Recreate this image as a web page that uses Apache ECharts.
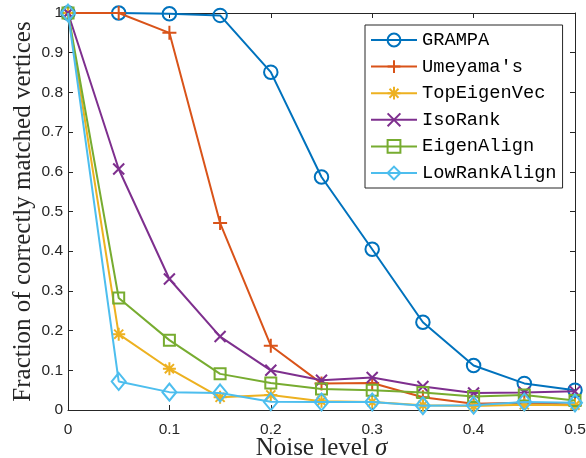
<!DOCTYPE html>
<html>
<head>
<meta charset="utf-8">
<script src="https://cdn.jsdelivr.net/npm/echarts@6/dist/echarts.min.js"></script>
<style>
  html, body { margin: 0; padding: 0; background: #fff; }
  #chart { width: 586px; height: 458px; }
</style>
</head>
<body>
<div id="chart"></div>
<script>
// Noise levels (sigma) on the x axis
const noiseLevels = [0, 0.05, 0.1, 0.15, 0.2, 0.25, 0.3, 0.35, 0.4, 0.45, 0.5];

// Fraction of correctly matched vertices for each method
const grampa       = [1, 1, 0.998, 0.994, 0.851, 0.587, 0.405, 0.221, 0.112, 0.067, 0.05];
const umeyama      = [1, 1, 0.950, 0.471, 0.162, 0.067, 0.068, 0.032, 0.016, 0.018, 0.013];
const topEigenVec  = [1, 0.191, 0.104, 0.032, 0.038, 0.022, 0.020, 0.012, 0.010, 0.013, 0.012];
const isoRank      = [1, 0.607, 0.330, 0.185, 0.100, 0.075, 0.082, 0.059, 0.043, 0.044, 0.047];
const eigenAlign   = [1, 0.282, 0.176, 0.091, 0.068, 0.053, 0.050, 0.044, 0.034, 0.038, 0.024];
const lowRankAlign = [1, 0.072, 0.045, 0.043, 0.021, 0.020, 0.020, 0.011, 0.012, 0.020, 0.018];

const seriesNames = ['GRAMPA', "Umeyama's", 'TopEigenVec', 'IsoRank', 'EigenAlign', 'LowRankAlign'];
const seriesValues = [grampa, umeyama, topEigenVec, isoRank, eigenAlign, lowRankAlign];

const xTicks = { min: 0, max: 0.5, step: 0.1 };
const yTicks = { min: 0, max: 1, step: 0.1 };

// Line colours and marker shapes
const colors = ['#0072BD', '#D95319', '#EDB120', '#7E2F8E', '#77AC30', '#4DBEEE'];
const markers = [
  { symbol: 'circle', size: 13.5 },
  { symbol: 'path://M0,-10L0,10M-10,0L10,0', size: 14 },
  { symbol: 'path://M0,-10L0,10M-10,0L10,0M-7,-7L7,7M-7,7L7,-7', size: 13 },
  { symbol: 'path://M-7,-7L7,7M-7,7L7,-7', size: 11 },
  { symbol: 'rect', size: 11 },
  { symbol: 'diamond', size: [14, 17] }
];

const axisColor = '#262626';

const series = seriesNames.map((name, i) => ({
  name: name,
  type: 'line',
  data: noiseLevels.map((x, j) => [x, seriesValues[i][j]]),
  symbol: markers[i].symbol,
  symbolSize: markers[i].size,
  showAllSymbol: true,
  z: 2 + i,
  lineStyle: { color: colors[i], width: 2 },
  itemStyle: { color: 'none', borderColor: colors[i], borderWidth: 2 },
  emphasis: { disabled: true },
  animation: false
}));

const chart = echarts.init(document.getElementById('chart'), null, { renderer: 'canvas' });

const tickLabelStyle = {
  color: axisColor,
  fontFamily: 'Liberation Sans, Arial, sans-serif',
  fontSize: 15.5
};

// Ticks point into the plot on every side of the box
function innerTick() {
  return { show: true, inside: true, length: 5, lineStyle: { color: axisColor, width: 1 } };
}
// Box edges stay on their own side instead of jumping to the zero line
function boxLine() {
  return { show: true, onZero: false, lineStyle: { color: axisColor, width: 1 } };
}

chart.setOption({
  animation: false,
  backgroundColor: '#fff',
  grid: { left: 68, right: 11, top: 13, bottom: 48, containLabel: false, outerBoundsMode: 'none' },
  legend: {
    data: seriesNames,
    orient: 'vertical',
    left: 365,
    top: 25,
    padding: [5, 6, 5, 5],
    itemWidth: 46,
    itemHeight: 16,
    itemGap: 6.6,
    backgroundColor: '#fff',
    borderColor: axisColor,
    borderWidth: 1,
    borderRadius: 0,
    textStyle: {
      color: '#000',
      fontFamily: 'Liberation Mono, DejaVu Sans Mono, monospace',
      fontSize: 18.7,
      lineHeight: 20
    }
  },
  xAxis: [
    {
      type: 'value', position: 'bottom',
      min: xTicks.min, max: xTicks.max, interval: xTicks.step,
      name: '{n|Noise level }{s|σ}',
      nameLocation: 'middle',
      nameGap: 26,
      nameMoveOverlap: false,
      nameTextStyle: {
        rich: {
          n: { fontFamily: 'Liberation Serif, serif', fontSize: 25, color: axisColor },
          s: { fontFamily: 'Liberation Serif, serif', fontSize: 25, fontStyle: 'italic', color: axisColor }
        }
      },
      axisLine: boxLine(),
      axisTick: innerTick(),
      axisLabel: Object.assign({ margin: 12 }, tickLabelStyle),
      splitLine: { show: false }
    },
    {
      type: 'value', position: 'top',
      min: xTicks.min, max: xTicks.max, interval: xTicks.step,
      axisLine: boxLine(),
      axisTick: innerTick(),
      axisLabel: { show: false },
      splitLine: { show: false }
    }
  ],
  yAxis: [
    {
      type: 'value', position: 'left',
      min: yTicks.min, max: yTicks.max, interval: yTicks.step,
      name: 'Fraction of correctly matched vertices',
      nameLocation: 'middle',
      nameGap: 32,
      nameMoveOverlap: false,
      nameTextStyle: { fontFamily: 'Liberation Serif, serif', fontSize: 25, color: axisColor },
      axisLine: boxLine(),
      axisTick: innerTick(),
      axisLabel: Object.assign({ margin: 5 }, tickLabelStyle),
      splitLine: { show: false }
    },
    {
      type: 'value', position: 'right',
      min: yTicks.min, max: yTicks.max, interval: yTicks.step,
      axisLine: boxLine(),
      axisTick: innerTick(),
      axisLabel: { show: false },
      splitLine: { show: false }
    }
  ],
  series: series
});
</script>
</body>
</html>
